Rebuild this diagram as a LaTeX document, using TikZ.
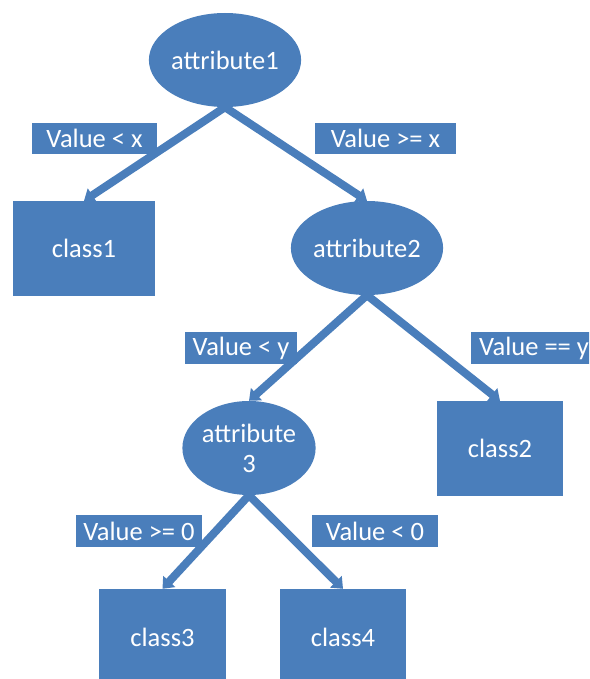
\documentclass[tikz,border=0pt]{standalone}
\usepackage{fontspec}
\setmainfont{Carlito}
\usetikzlibrary{shapes.geometric,arrows.meta}
\definecolor{nodeblue}{HTML}{4A7EBB}
\tikzset{
  base/.style={fill=nodeblue, text=white, inner sep=0pt, font=\fontsize{26.5}{30}\selectfont, align=center},
  attr/.style={base, ellipse},
  leaf/.style={base, rectangle},
  cond/.style={base, rectangle, minimum height=31pt},
  branch/.style={draw=nodeblue, line width=8pt, -{Triangle[width=16pt,length=10pt]}, shorten <=-2pt},
}
\begin{document}
\begin{tikzpicture}[x=1pt,y=-1pt]
\useasboundingbox (0,0) rectangle (589,679);
\clip (0,0) rectangle (589,679);
% condition labels
\node[cond, minimum width=125pt] (lx1) at (94.5,138.5) {Value < x};
\node[cond, minimum width=141pt] (lx2) at (385.5,138.5) {Value >= x};
\node[cond, minimum width=112pt, minimum height=32pt] (ly1) at (241,348) {Value < y};
\node[cond, minimum width=126pt, minimum height=32pt] (ly2) at (534,348) {Value == y};
\node[cond, minimum width=126pt, minimum height=32pt] (l01) at (139,531) {Value >= 0};
\node[cond, minimum width=126pt, minimum height=32pt] (l02) at (375,531) {Value < 0};
% decision nodes
\node[attr, minimum width=143pt, minimum height=94pt] (a1) at (225,60) {attribute1};
\node[attr, minimum width=142pt, minimum height=94pt] (a2) at (367,248) {attribute2};
\node[attr, minimum width=126pt, minimum height=94pt] (a3) at (249,448) {attribute\\3};
% leaves
\node[leaf, minimum width=142pt, minimum height=95pt] (c1) at (84,248.5) {class1};
\node[leaf, minimum width=126pt, minimum height=95pt] (c2) at (500,448.5) {class2};
\node[leaf, minimum width=127pt, minimum height=96pt] (c3) at (162.5,637) {class3};
\node[leaf, minimum width=126pt, minimum height=96pt] (c4) at (343,637) {class4};
% branches
\draw[branch] (a1.south) -- (c1.north);
\draw[branch] (a1.south) -- (a2.north);
\draw[branch] (a2.south) -- (a3.north);
\draw[branch] (a2.south) -- (c2.north);
\draw[branch] (a3.south) -- (c3.north);
\draw[branch] (a3.south) -- (c4.north);
\end{tikzpicture}
\end{document}
